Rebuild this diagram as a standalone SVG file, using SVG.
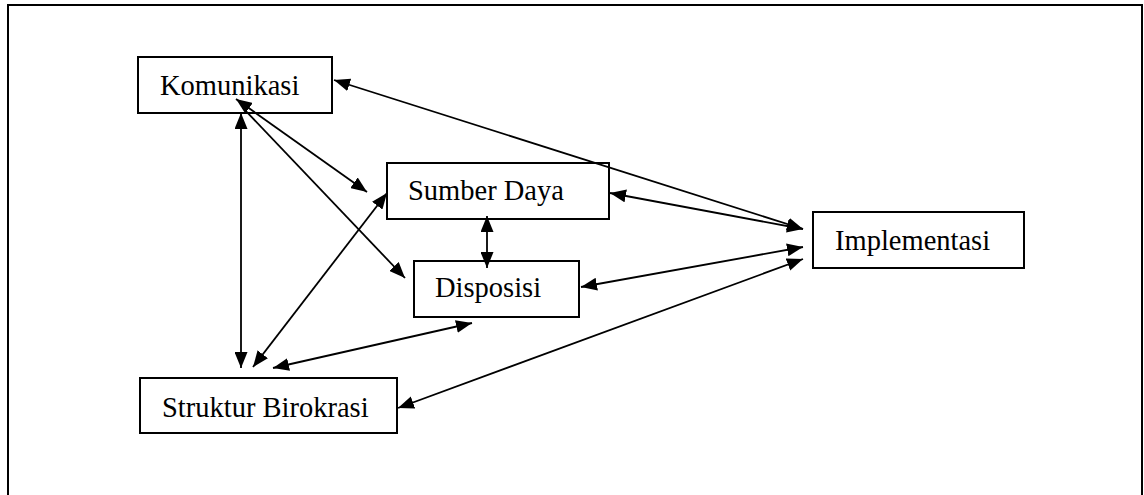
<svg xmlns="http://www.w3.org/2000/svg" width="1144" height="495" viewBox="0 0 1144 495">
<defs>
<style>
.frame{fill:none;stroke:#000;stroke-width:2}
.box{fill:#fff;stroke:#000;stroke-width:2}
.lbl{font-family:"Liberation Serif","Times New Roman",serif;font-size:28.5px;fill:#000}
.c{stroke:#000;stroke-width:1.8;fill:none}
</style>
<marker id="ah" viewBox="0 0 16 13" refX="16" refY="6.5" markerWidth="16" markerHeight="13" markerUnits="userSpaceOnUse" orient="auto-start-reverse">
<path d="M0,0 L16,6.5 L0,13 Z" fill="#000"/>
</marker>
</defs>
<rect width="1144" height="495" fill="#fff"/>
<path class="frame" d="M8,495 V5 H1142 V495"/>
<g id="komunikasi">
<rect class="box" x="138" y="57" width="194" height="56"/>
<text class="lbl" x="160" y="95">Komunikasi</text>
</g>
<g id="sumber-daya">
<rect class="box" x="387" y="163" width="222" height="56"/>
<text class="lbl" x="408" y="200">Sumber Daya</text>
</g>
<g id="disposisi">
<rect class="box" x="414" y="261" width="165" height="56"/>
<text class="lbl" x="435" y="297">Disposisi</text>
</g>
<g id="implementasi">
<rect class="box" x="813" y="212" width="211" height="56"/>
<text class="lbl" x="835" y="250">Implementasi</text>
</g>
<g id="struktur-birokrasi">
<rect class="box" x="140" y="378" width="257" height="55"/>
<text class="lbl" x="162" y="417">Struktur Birokrasi</text>
</g>
<g id="connectors">
<line class="c" x1="334" y1="80" x2="803" y2="229" marker-start="url(#ah)" marker-end="url(#ah)"/>
<line class="c" x1="610" y1="193" x2="803" y2="229" marker-start="url(#ah)" marker-end="url(#ah)"/>
<line class="c" x1="581" y1="287" x2="803" y2="247" marker-start="url(#ah)" marker-end="url(#ah)"/>
<line class="c" x1="398" y1="408" x2="803" y2="259" marker-start="url(#ah)" marker-end="url(#ah)"/>
<line class="c" x1="241" y1="113" x2="241" y2="368" marker-start="url(#ah)" marker-end="url(#ah)"/>
<line class="c" x1="236" y1="99" x2="367" y2="192" marker-start="url(#ah)" marker-end="url(#ah)"/>
<line class="c" x1="243" y1="108" x2="405" y2="278" marker-end="url(#ah)"/>
<line class="c" x1="253" y1="367" x2="387" y2="193" marker-start="url(#ah)" marker-end="url(#ah)"/>
<line class="c" x1="273" y1="368" x2="472" y2="323" marker-start="url(#ah)" marker-end="url(#ah)"/>
<line class="c" x1="487" y1="216" x2="487" y2="268" marker-start="url(#ah)" marker-end="url(#ah)"/>
</g>
</svg>
